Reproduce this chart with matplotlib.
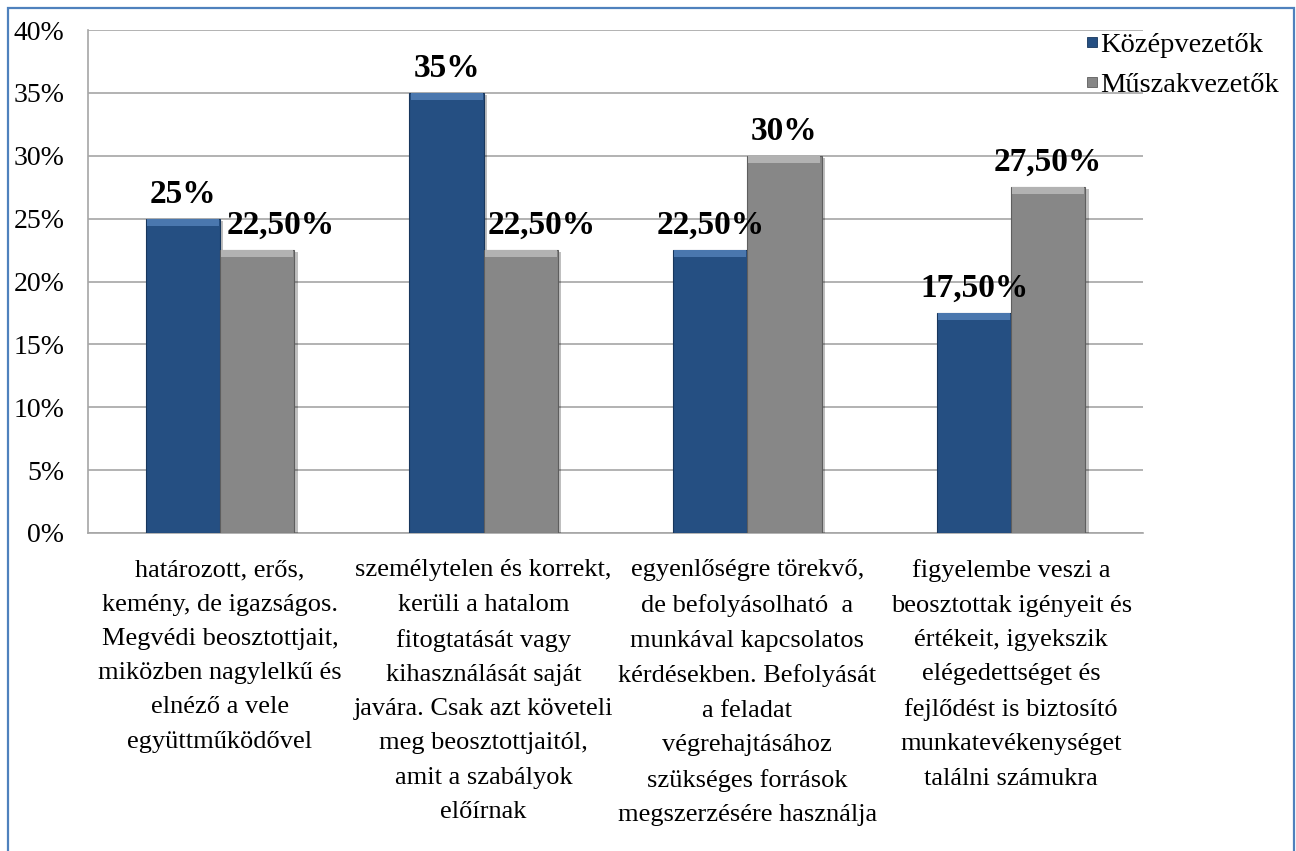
import matplotlib
matplotlib.use("Agg")
import matplotlib.pyplot as plt
from matplotlib.patches import Rectangle
from matplotlib.lines import Line2D
import matplotlib.patheffects as pe
import numpy as np

categories = [
    "határozott, erős,\nkemény, de igazságos.\nMegvédi beosztottjait,\nmiközben nagylelkű és\nelnéző a vele\negyüttműködővel",
    "személytelen és korrekt,\nkerüli a hatalom\nfitogtatását vagy\nkihasználását saját\njavára. Csak azt követeli\nmeg beosztottjaitól,\namit a szabályok\nelőírnak",
    "egyenlőségre törekvő,\nde befolyásolható  a\nmunkával kapcsolatos\nkérdésekben. Befolyását\na feladat\nvégrehajtásához\nszükséges források\nmegszerzésére használja",
    "figyelembe veszi a\nbeosztottak igényeit és\nértékeit, igyekszik\nelégedettséget és\nfejlődést is biztosító\nmunkatevékenységet\ntalálni számukra",
]
series_names = ["Középvezetők", "Műszakvezetők"]
kozep = [25.0, 35.0, 22.5, 17.5]
muszak = [22.5, 22.5, 30.0, 27.5]
y_ticks = [0, 5, 10, 15, 20, 25, 30, 35, 40]

colors = ["#254F82", "#878787"]
top_colors = ["#4A77AE", "#B2B2B2"]
edge_colors = ["#17365C", "#5E5E5E"]

plt.rcParams['font.family'] = ['Liberation Serif', 'DejaVu Serif']

W, H = 1296, 851
fig = plt.figure(figsize=(W / 100, H / 100), dpi=100)
fig.patch.set_facecolor("white")

left, right, top, bottom = 88, 1143, 30, 533
ax = fig.add_axes([left / W, 1 - bottom / H, (right - left) / W, (bottom - top) / H])

x = np.arange(len(categories))
w = 0.2814


def fmt(v):
    if float(v).is_integer():
        return f"{int(v)}%"
    return f"{v:.2f}".replace(".", ",") + "%"


shadow = [pe.SimplePatchShadow(offset=(2.5, -1.5), shadow_rgbFace="#000000", alpha=0.25), pe.Normal()]
label_dx = {(1, 0): 17, (1, 1): 15}
for s, vals in enumerate([kozep, muszak]):
    xs = x - w / 2 + s * w
    bars = ax.bar(xs, vals, width=w, color=colors[s], edgecolor=edge_colors[s],
                  linewidth=0.8, zorder=3)
    for b in bars:
        b.set_path_effects(shadow)
    band = 0.55
    ax.bar(xs, [band] * len(vals), bottom=[v - band for v in vals], width=w * 0.97,
           color=top_colors[s], linewidth=0, zorder=4)
    for i, v in enumerate(vals):
        dx = label_dx.get((s, i), 0)
        ax.annotate(fmt(v), (xs[i], v), xytext=(dx, 11.5), textcoords="offset points",
                    ha="center", va="baseline", fontsize=24, fontweight="bold",
                    color="black", zorder=5)

ax.set_xlim(-0.5, len(categories) - 0.5)
ax.set_ylim(0, 40)
ax.set_yticks(y_ticks)
ax.set_yticklabels([f"{t}%" for t in y_ticks], fontsize=20)
ax.yaxis.grid(True, color="#A6A6A6", linewidth=1.2, zorder=0)
ax.set_axisbelow(True)
ax.tick_params(axis="y", length=0, pad=17)
ax.set_xticks(x)
ax.set_xticklabels(categories, fontsize=19, linespacing=1.72, multialignment="center")
ax.tick_params(axis="x", length=0, pad=19)
for sp in ["top", "right"]:
    ax.spines[sp].set_visible(False)
ax.spines["left"].set_color("#A6A6A6")
ax.spines["bottom"].set_color("#A6A6A6")
ax.spines["left"].set_linewidth(1.2)
ax.spines["bottom"].set_linewidth(1.2)

handles = [Line2D([], [], marker="s", linestyle="none", markersize=7,
                  markerfacecolor=colors[i], markeredgecolor=edge_colors[i], markeredgewidth=0.6)
           for i in range(2)]
fig.legend(handles, series_names, loc="upper left",
           bbox_to_anchor=(1071 / W, 1 - 18 / H), frameon=False, fontsize=20.5,
           handlelength=0.5, handletextpad=0.02, labelspacing=0.5, borderpad=0)

fig.patches.append(Rectangle((7.5 / W, -0.05), (1293.5 - 7.5) / W, 1 - 7.5 / H + 0.05,
                             transform=fig.transFigure, fill=False,
                             edgecolor="#4F81BD", linewidth=1.6, zorder=10))

fig.savefig("out.png", dpi=100, facecolor="white")
